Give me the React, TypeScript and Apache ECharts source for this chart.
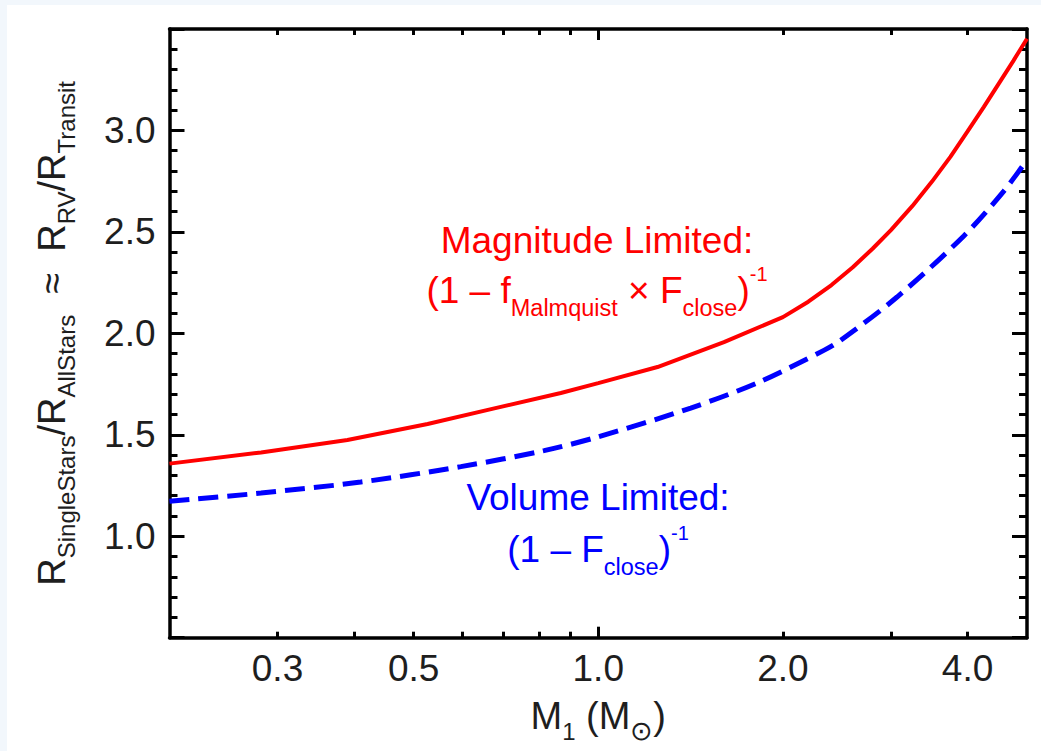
import React, { useEffect, useRef } from 'react';
import * as echarts from 'echarts';

// Magnitude limited curve (red, solid)
const massRed = [0.2, 0.282, 0.39, 0.527, 0.677, 0.869, 1.0, 1.249, 1.603, 2.0, 2.2, 2.4, 2.6, 2.8, 3.0, 3.25, 3.5, 3.75, 4.0, 4.25, 4.5, 4.75, 5.0];
const ratioRed = [1.358, 1.413, 1.474, 1.553, 1.63, 1.706, 1.755, 1.834, 1.957, 2.08, 2.156, 2.238, 2.326, 2.417, 2.509, 2.627, 2.748, 2.87, 2.995, 3.115, 3.232, 3.343, 3.452];

// Volume limited curve (blue, dashed)
const massBlue = [0.2, 0.282, 0.41, 0.597, 0.816, 1.0, 1.415, 1.817, 2.332, 2.483, 3.07, 3.944, 4.58, 5.0];
const ratioBlue = [1.172, 1.213, 1.267, 1.343, 1.422, 1.49, 1.632, 1.756, 1.916, 1.965, 2.179, 2.48, 2.7, 2.855];

// Axis definitions
const xLabelValues = [0.3, 0.5, 1.0, 2.0, 4.0];
const xMinorTickValues = [0.3, 0.4, 0.5, 0.6, 0.7, 0.8, 0.9, 2, 3, 4];
const xMajorTickValues = [1.0];
const X_MIN = 0.2;
const X_MAX = 5.0;
const Y_MIN = 0.5;
const Y_MAX = 3.5;
const Y_STEP = 0.5;

const lg = (v: number) => Math.log10(v);

export default function App() {
  const ref = useRef<HTMLDivElement>(null);

  useEffect(() => {
    if (!ref.current) return;
    const chart = echarts.init(ref.current, null, { renderer: 'svg' });
    const font = "'Liberation Sans', Arial, Helvetica, sans-serif";
    const textColor = '#1e1e1e';

    const xBase = (pos: 'top' | 'bottom', ticks: number[], len: number, line: boolean) => ({
      type: 'value',
      position: pos,
      min: lg(X_MIN),
      max: lg(X_MAX),
      splitLine: { show: false },
      axisLine: { show: line, onZero: false, lineStyle: { color: '#000', width: 3.5 } },
      axisTick: {
        show: true,
        inside: true,
        length: len,
        lineStyle: { color: '#000', width: 3 },
        customValues: ticks.map(lg),
      },
      axisLabel: { show: false },
    });

    const xMain: any = xBase('bottom', xMinorTickValues, 6, true);
    xMain.axisLabel = {
      show: true,
      customValues: xLabelValues.map(lg),
      formatter: (v: number) => Math.pow(10, v).toFixed(1),
      fontSize: 37,
      fontFamily: font,
      color: textColor,
      margin: 12,
    };
    xMain.name = '{m|M}{s|1}{m| (M}{o|⊙}{m|)}';
    xMain.nameLocation = 'middle';
    xMain.nameGap = 50;
    xMain.nameMoveOverlap = false;
    xMain.nameTextStyle = {
      color: textColor,
      fontFamily: font,
      rich: {
        m: { fontSize: 38, fontFamily: font, color: textColor },
        s: { fontSize: 24, fontFamily: font, color: textColor, padding: [30, 0, 0, 0] },
        o: { fontSize: 27, fontFamily: font, color: textColor, padding: [30, 0, 0, 0] },
      },
    };

    const yBase = (pos: 'left' | 'right') => ({
      type: 'value',
      position: pos,
      min: Y_MIN,
      max: Y_MAX,
      interval: Y_STEP,
      splitLine: { show: false },
      axisLine: { show: true, onZero: false, lineStyle: { color: '#000', width: 3.5 } },
      axisTick: { show: true, inside: true, length: 15, lineStyle: { color: '#000', width: 3 } },
      minorTick: { show: true, splitNumber: 5, length: 8, lineStyle: { color: '#000', width: 3 } },
      minorSplitLine: { show: false },
      axisLabel: { show: false },
    });

    const yMain: any = yBase('left');
    yMain.axisLabel = {
      show: true,
      showMinLabel: false,
      showMaxLabel: false,
      formatter: (v: number) => v.toFixed(1),
      fontSize: 37,
      fontFamily: font,
      color: textColor,
      margin: 14,
      padding: [12, 0, 0, 0],
    };
    yMain.name =
      '{m|R}{s|SingleStars}{m|/R}{s|AllStars}{m|  ≈  R}{s|RV}{m|/R}{s|Transit}';
    yMain.nameLocation = 'middle';
    yMain.nameRotate = 90;
    yMain.nameGap = 91;
    yMain.nameMoveOverlap = false;
    yMain.nameTextStyle = {
      color: textColor,
      fontFamily: font,
      rich: {
        m: { fontSize: 38, fontFamily: font, color: textColor },
        s: { fontSize: 24, fontFamily: font, color: textColor, padding: [30, 0, 0, 0] },
      },
    };

    const red = '#ff0000';
    const blue = '#0000ff';
    const richAnno = (color: string) => ({
      m: { fontSize: 37, fontFamily: font, fill: color, color },
      s: { fontSize: 23.5, fontFamily: font, fill: color, color, padding: [35, 0, 0, 0] },
      p: { fontSize: 20, fontFamily: font, fill: color, color, padding: [0, 0, 33, 0] },
    });

    chart.setOption({
      animation: false,
      backgroundColor: '#ffffff',
      grid: { left: 162.5, top: 24, right: 14, bottom: 113.3, containLabel: false, outerBoundsMode: 'none' },
      xAxis: [
        xMain,
        xBase('bottom', xMajorTickValues, 11, false),
        xBase('top', xMinorTickValues, 6, true),
        xBase('top', xMajorTickValues, 11, false),
      ],
      yAxis: [yMain, yBase('right')],
      series: [
        {
          name: 'Magnitude Limited',
          type: 'line',
          xAxisIndex: 0,
          yAxisIndex: 0,
          data: massRed.map((m, i) => [lg(m), ratioRed[i]]),
          showSymbol: false,
          symbol: 'none',
          lineStyle: { color: red, width: 4 },
          z: 3,
        },
        {
          name: 'Volume Limited',
          type: 'line',
          xAxisIndex: 0,
          yAxisIndex: 0,
          data: massBlue.map((m, i) => [lg(m), ratioBlue[i]]),
          showSymbol: false,
          symbol: 'none',
          smooth: 0.3,
          lineStyle: { color: blue, width: 5, type: [20, 9] },
          z: 3,
        },
      ],
      graphic: [
        {
          type: 'text',
          x: 590,
          y: 235.5,
          style: {
            text: 'Magnitude Limited:',
            fill: red,
            fontSize: 37,
            fontFamily: font,
            align: 'center',
            verticalAlign: 'middle',
          },
        },
        {
          type: 'text',
          x: 590,
          y: 285.5,
          style: {
            text: '{m|(1 – f}{s|Malmquist}{m| × F}{s|close}{m|)}{p|-1}',
            rich: richAnno(red),
            fill: red,
            fontSize: 37,
            fontFamily: font,
            align: 'center',
            verticalAlign: 'middle',
          },
        },
        {
          type: 'text',
          x: 591,
          y: 492,
          style: {
            text: 'Volume Limited:',
            fill: blue,
            fontSize: 37,
            fontFamily: font,
            align: 'center',
            verticalAlign: 'middle',
          },
        },
        {
          type: 'text',
          x: 591,
          y: 544,
          style: {
            text: '{m|(1 – F}{s|close}{m|)}{p|-1}',
            rich: richAnno(blue),
            fill: blue,
            fontSize: 37,
            fontFamily: font,
            align: 'center',
            verticalAlign: 'middle',
          },
        },
      ],
    });

    return () => chart.dispose();
  }, []);

  return (
    <div
      style={{
        position: 'fixed',
        left: 0,
        top: 0,
        width: 1041,
        height: 751,
        background: '#f2f7fc',
        overflow: 'hidden',
      }}
    >
      <div
        ref={ref}
        style={{ position: 'absolute', left: 7, top: 5, width: 1034, height: 746, background: '#ffffff' }}
      />
    </div>
  );
}
